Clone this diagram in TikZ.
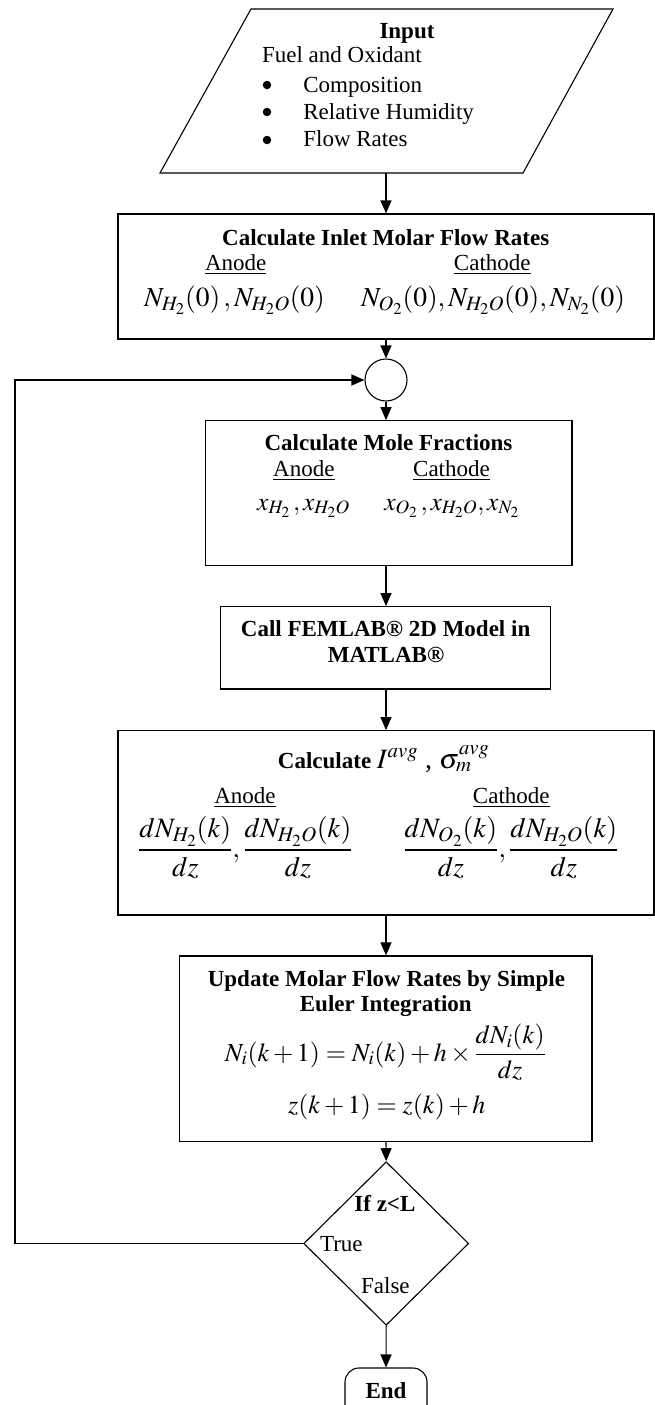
\documentclass[tikz,border=0pt]{standalone}
\usepackage{amsmath}
\usepackage{mathptmx}
\usepackage{fontspec}
\setmainfont{Liberation Serif}
\usetikzlibrary{arrows.meta,shapes.geometric}
\begin{document}
\begin{tikzpicture}[x=1pt,y=-1pt,
  line width=1.1pt,
  arr/.style={-{Triangle[length=13pt,width=11pt]}},
  box/.style={draw, rectangle, inner sep=0pt},
  txt/.style={inner sep=0pt, anchor=base, font=\fontsize{23}{27.6}\selectfont},
  btxt/.style={inner sep=0pt, anchor=base, font=\fontsize{23}{27.6}\selectfont\bfseries},
  mth/.style={inner sep=0pt, anchor=base, font=\fontsize{#1}{#1}\selectfont},
  dot/.style={circle, fill, inner sep=0pt, minimum size=8.5},
]
\useasboundingbox (0,0) rectangle (655,1405);

% input parallelogram
\draw (251,9) -- (613,9) -- (523,173) -- (160,173) -- cycle;
\coordinate (inb) at (386,173);
\node[btxt] (tin) at (407,39) {Input};
\node[txt, anchor=base west] (tfo) at (261.5,63) {Fuel and Oxidant};
\node[dot] (bu1) at (267,85) {};
\node[dot] (bu2) at (267,112) {};
\node[dot] (bu3) at (267,140) {};
\node[txt, anchor=base west] (ti1) at (302.8,92.7) {Composition};
\node[txt, anchor=base west] (ti2) at (302.8,119.5) {Relative Humidity};
\node[txt, anchor=base west] (ti3) at (302.8,146.7) {Flow Rates};

% box 1
\node[box, minimum width=536, minimum height=125] (b1) at (386,276.5) {};
\node[btxt] (b1t) at (385.7,245.7) {Calculate Inlet Molar Flow Rates};
\node[txt] (b1a) at (235.8,270) {\underline{Anode}};
\node[txt] (b1c) at (492.3,270) {\underline{Cathode}};
\node[mth=27.5] (b1fa) at (234.5,306.7) {$N_{H_2}(0)\,,N_{H_2O}(0)$};
\node[mth=27.5] (b1fc) at (493,306.7) {$N_{O_2}(0),N_{H_2O}(0),N_{N_2}(0)$};

% merge circle
\node[draw, circle, minimum size=42, inner sep=0pt] (c) at (386,380) {};

% box 2
\node[box, minimum width=366.5, minimum height=145] (b2) at (388.75,493.2) {};
\node[btxt] (b2t) at (388.5,450.7) {Calculate Mole Fractions};
\node[txt] (b2a) at (303.9,476) {\underline{Anode}};
\node[txt] (b2c) at (451.5,476) {\underline{Cathode}};
\node[mth=25.5] (b2fa) at (303.5,510) {$x_{H_2}\,,x_{H_2O}$};
\node[mth=25.5] (b2fc) at (451.8,510) {$x_{O_2}\,,x_{H_2O},x_{N_2}$};

% box 3
\node[box, minimum width=330, minimum height=82.3] (b3) at (385.5,647.8) {};
\node[btxt] (b3t1) at (385.6,636) {Call FEMLAB® 2D Model in};
\node[btxt] (b3t2) at (386,662.7) {MATLAB®};

% box 4
\node[box, minimum width=536, minimum height=184.3] (b4) at (386,822.8) {};
\node[btxt] (b4t) at (383.7,768) {Calculate {\mdseries\fontsize{28}{33}\selectfont$I^{avg}$ , $\sigma_m^{avg}$}};
\node[txt] (b4a) at (245,803) {\underline{Anode}};
\node[txt] (b4c) at (511.3,803) {\underline{Cathode}};
\node[mth=28] (b4fa) at (245.4,857) {$\dfrac{dN_{H_2}(k)}{dz},\dfrac{dN_{H_2O}(k)}{dz}$};
\node[mth=28] (b4fc) at (511,857) {$\dfrac{dN_{O_2}(k)}{dz},\dfrac{dN_{H_2O}(k)}{dz}$};

% box 5
\node[box, minimum width=412.4, minimum height=185.7] (b5) at (385.8,1048.8) {};
\node[btxt] (b5t1) at (386.4,986) {Update Molar Flow Rates by Simple};
\node[btxt] (b5t2) at (385.8,1011.7) {Euler Integration};
\node[mth=26] (b5e1) at (385.4,1061) {$N_i(k+1)=N_i(k)+h\times\dfrac{dN_i(k)}{dz}$};
\node[mth=26] (b5e2) at (386.8,1113.3) {$z(k+1)=z(k)+h$};

% decision
\node[draw, diamond, minimum width=165, minimum height=163.5, inner sep=0pt] (d) at (386.2,1243.5) {};
\node[btxt] (dq) at (384.9,1211) {If z<L};
\node[txt, anchor=base west] (dt) at (319.5,1251.7) {True};
\node[txt] (df) at (385.4,1293.3) {False};

% end
\node[draw, rectangle, rounded corners=14pt, minimum width=82, minimum height=52, inner sep=0pt] (e) at (386,1394) {};
\node[btxt] (et) at (386,1398) {End};

% loop-back line
\coordinate (lp) at (15,0);

% connectors
\draw[arr] (inb) -- (inb |- b1.north);
\draw[arr] (b1.south -| c) -- (c.north);
\draw[arr] (c.south) -- (c |- b2.north);
\draw[arr] (b2.south -| c) -- (c |- b3.north);
\draw[arr] (b3.south -| c) -- (c |- b4.north);
\draw[arr] (b4.south -| c) -- (c |- b5.north);
\draw[arr] (b5.south -| c) -- (d.north);
\draw[arr] (d.south) -- (e.north);
\draw[arr] (d.west) -- (d.west -| lp) |- (c.west);
\end{tikzpicture}
\end{document}
